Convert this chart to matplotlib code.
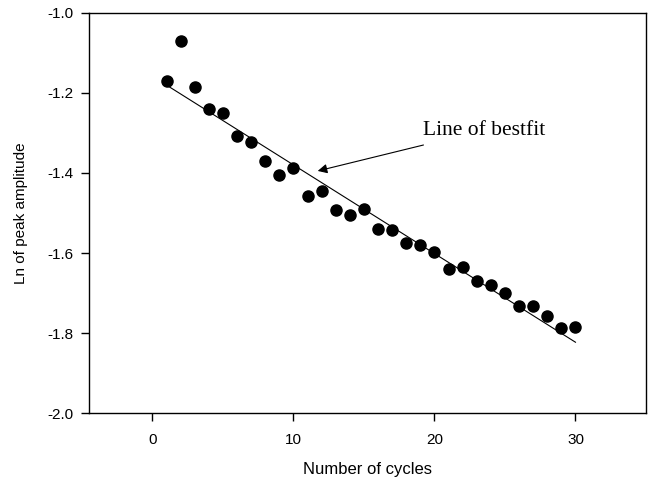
import numpy as np
import matplotlib.pyplot as plt

cycles = list(range(1, 31))
ln_amp = [-1.170, -1.071, -1.185, -1.240, -1.250, -1.308, -1.323, -1.370, -1.404, -1.388,
          -1.457, -1.445, -1.492, -1.505, -1.489, -1.541, -1.543, -1.574, -1.580, -1.598,
          -1.640, -1.634, -1.670, -1.679, -1.699, -1.733, -1.733, -1.757, -1.787, -1.785]

x = np.array(cycles)
y = np.array(ln_amp)
slope, intercept = np.polyfit(x, y, 1)

fig = plt.figure(figsize=(6.51, 4.83), dpi=100)
ax = fig.add_axes([0.1367, 0.1443, 0.8556, 0.8294])

ax.plot(x, slope * x + intercept, color="black", lw=0.8)
ax.plot(x, y, "o", color="black", ms=8)

ax.set_xlim(-4.5, 35)
ax.set_ylim(-2.0, -1.0)
ax.set_xticks([0, 10, 20, 30])
ax.set_yticks(np.arange(-2.0, -0.99, 0.2))
ax.yaxis.set_major_formatter(plt.FuncFormatter(lambda v, p: f"{v:.1f}"))

for s in ax.spines.values():
    s.set_linewidth(1.0)
ax.tick_params(direction="out", length=6, width=1.0, labelsize=11)
ax.tick_params(axis="x", pad=8)
ax.tick_params(axis="y", pad=5)
for lab in ax.get_xticklabels() + ax.get_yticklabels():
    lab.set_family("Liberation Sans")

ax.set_xlabel("Number of cycles", family="Liberation Sans", fontsize=12, labelpad=11)
ax.set_ylabel("Ln of peak amplitude", family="Liberation Sans", fontsize=11, labelpad=14)

ax.annotate("Line of bestfit", xy=(11.72, -1.395), xytext=(19.2, -1.293),
            family="Liberation Serif", fontsize=15.5, va="center", ha="left",
            arrowprops=dict(arrowstyle="-|>", color="black", lw=0.8,
                            mutation_scale=14, shrinkA=8, shrinkB=0))

fig.savefig("out.png", dpi=100)
